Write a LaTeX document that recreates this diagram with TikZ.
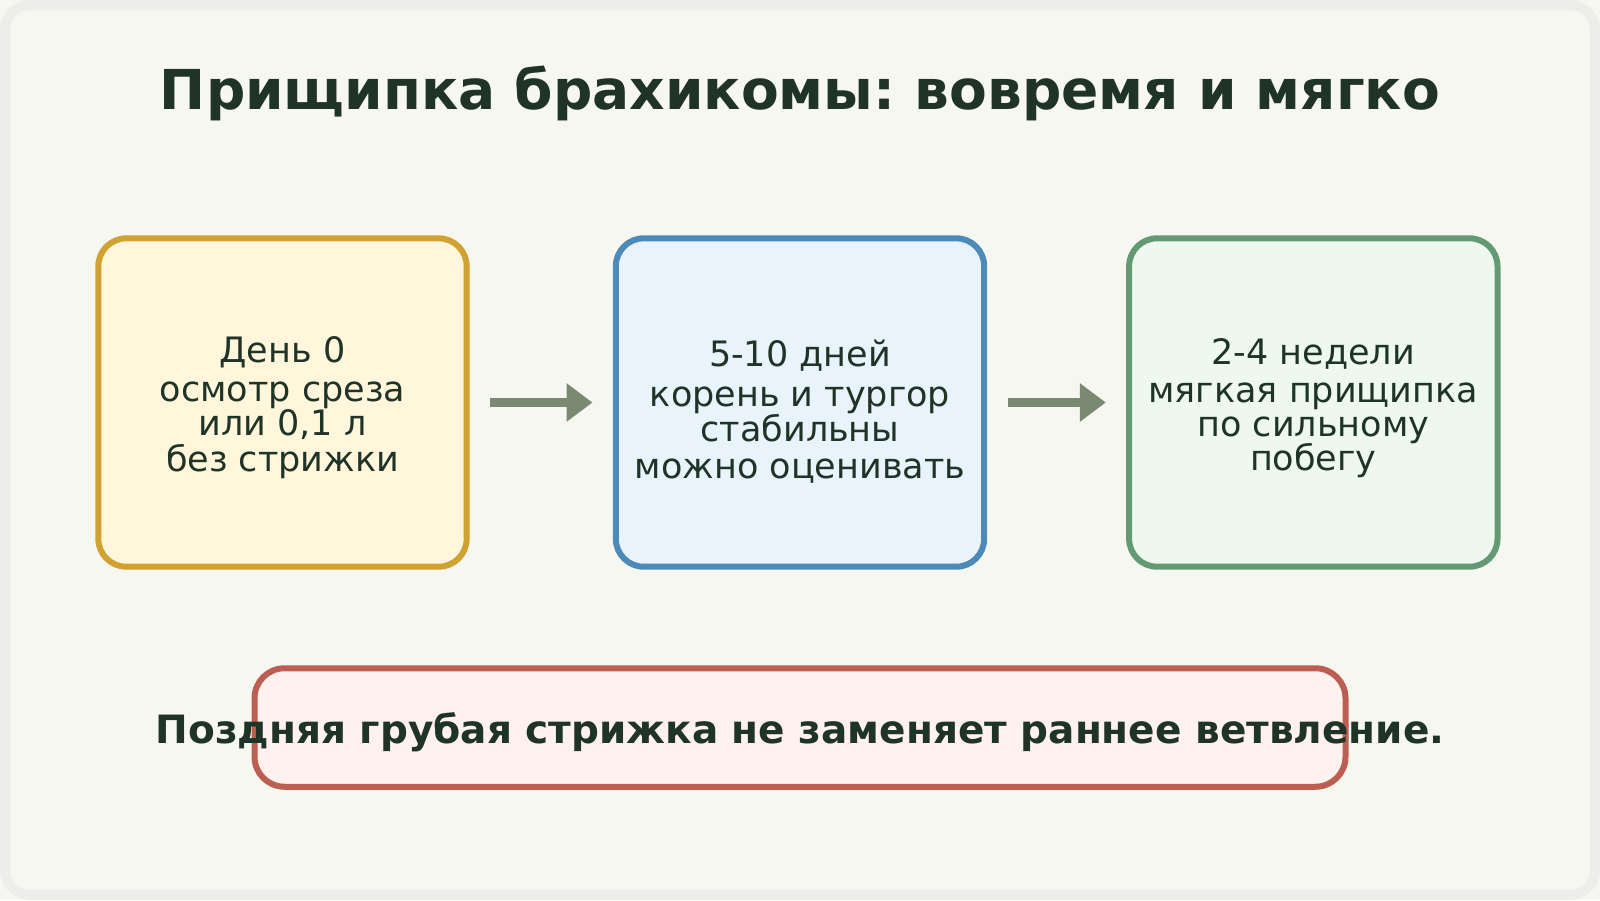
\documentclass[tikz,border=0pt]{standalone}
\usepackage{fontspec}
\setmainfont{DejaVu Sans}
\frenchspacing
\usetikzlibrary{arrows.meta}
\definecolor{bg}{HTML}{F7F7F2}
\definecolor{frame}{HTML}{EDEEE9}
\definecolor{ink}{HTML}{1F3327}
\definecolor{arrowc}{HTML}{7A8A72}
\definecolor{yfill}{HTML}{FFF6DB}
\definecolor{ydraw}{HTML}{D0A231}
\definecolor{bfill}{HTML}{E8F3FC}
\definecolor{bdraw}{HTML}{4E8AB8}
\definecolor{gfill}{HTML}{EEF8EE}
\definecolor{gdraw}{HTML}{639A73}
\definecolor{rfill}{HTML}{FFF1EE}
\definecolor{rdraw}{HTML}{BC5E51}
\tikzset{
  stagebox/.style={rectangle, rounded corners=28pt, minimum width=368.4pt, minimum height=328.4pt, line width=6pt, outer sep=0pt, inner sep=0pt},
  warnbox/.style={rectangle, rounded corners=30pt, minimum width=1091pt, minimum height=118.5pt, line width=6pt, outer sep=0pt, inner sep=0pt, draw=rdraw, fill=rfill},
  txt/.style={font=\fontsize{35}{42}\selectfont, text=ink, inner sep=0pt, anchor=base},
  titletxt/.style={font=\fontsize{55}{66}\selectfont\bfseries, text=ink, inner sep=0pt, anchor=base},
  warntxt/.style={font=\fontsize{39}{47}\selectfont\bfseries, text=ink, inner sep=0pt, anchor=base},
  flow/.style={draw=arrowc, line width=8.4pt, -{Triangle[length=26pt,width=37pt]}, shorten <=23.3pt, shorten >=23.3pt}
}
\begin{document}
\begin{tikzpicture}[x=1pt,y=-1pt]
\useasboundingbox (0,0) rectangle (1600,900);
\fill[bg] (0,0) rectangle (1600,900);
\draw[frame, line width=10pt, rounded corners=25pt] (5,5) rectangle (1595,895);

\node[titletxt] (title) at (800,109.3) {Прищипка брахикомы: вовремя и мягко};

\node[stagebox, draw=ydraw, fill=yfill] (b1) at (282.5,402.5) {};
\node[stagebox, draw=bdraw, fill=bfill] (b2) at (800,402.5) {};
\node[stagebox, draw=gdraw, fill=gfill] (b3) at (1313.3,402.5) {};

\node[txt] (b1a) at (282.5,362.5) {День 0};
\node[txt] (b1b) at (282.5,401.7) {осмотр среза};
\node[txt] (b1c) at (282.5,435) {или 0,1 л};
\node[txt] (b1d) at (282.5,471.7) {без стрижки};

\node[txt] (b2a) at (800,366.7) {5-10 дней};
\node[txt] (b2b) at (800,406.7) {корень и тургор};
\node[txt] (b2c) at (800,441.7) {стабильны};
\node[txt] (b2d) at (800,478.3) {можно оценивать};

\node[txt] (b3a) at (1313.3,364) {2-4 недели};
\node[txt] (b3b) at (1313.3,402.7) {мягкая прищипка};
\node[txt] (b3c) at (1313.3,436) {по сильному};
\node[txt] (b3d) at (1313.3,470) {побегу};

\draw[flow] (b1) -- (b2);
\draw[flow] (b2) -- (b3);

\node[warnbox] (warn) at (800,727.5) {};
\node[warntxt] (warnt) at (800,743.5) {Поздняя грубая стрижка не заменяет раннее ветвление.};
\end{tikzpicture}
\end{document}
